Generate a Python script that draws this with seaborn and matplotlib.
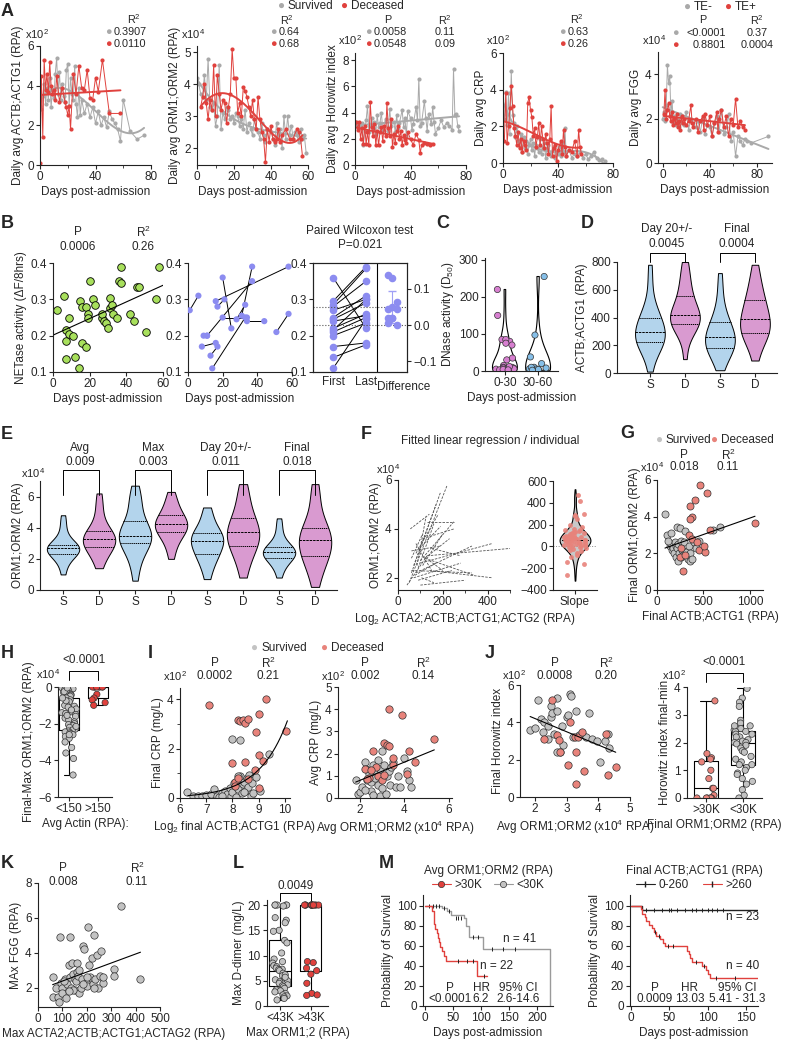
#!/usr/bin/env python3
"""
Multi-panel figure: actin / ORM / CRP / FGG time courses, NETase and DNase
activity, group comparisons and survival curves.
"""
import numpy as np
import pandas as pd
import matplotlib
matplotlib.use('Agg')
import matplotlib.pyplot as plt
from matplotlib.lines import Line2D
from matplotlib.ticker import MultipleLocator
import seaborn as sns

# ---------------------------------------------------------------- data
# panel A: daily averages as (day, value)
a1_surv = [(0, 3.0), (1, 2.8), (2, 3.5), (3, 4.1), (4, 3.1), (5, 3.9), (6, 3.3), (7, 4.4), (8, 2.9),
           (9, 3.8), (10, 3.4), (11, 4.6), (12, 5.4), (13, 3.6), (14, 4.7), (15, 3.3), (16, 4.1),
           (17, 3.5), (18, 3.2), (19, 4.8), (20, 5.1), (21, 3.0), (22, 4.4), (23, 3.6), (24, 3.3),
           (25, 5.0), (26, 3.1), (27, 2.4), (28, 3.9), (29, 2.5), (30, 3.3), (32, 2.6), (34, 3.1),
           (36, 2.4), (38, 2.9), (40, 2.1), (42, 2.7), (44, 2.0), (46, 2.4), (48, 1.9), (50, 2.7),
           (52, 2.3), (54, 2.1), (56, 1.8), (58, 1.2), (60, 3.3), (65, 1.7), (70, 1.3), (75, 1.5)]
a1_dec = [(0, 0.1), (1, 4.5), (2, 1.4), (3, 5.3), (4, 3.8), (5, 4.6), (6, 3.7), (7, 5.2), (8, 4.0),
          (9, 3.6), (10, 3.8), (11, 3.3), (12, 4.5), (14, 3.2), (16, 3.9), (18, 3.2), (19, 2.9),
          (20, 2.5), (21, 3.0), (22, 1.8), (24, 4.6), (26, 3.6), (28, 5.0), (30, 3.9), (32, 3.8),
          (34, 4.8), (36, 3.4), (38, 3.3), (40, 4.4), (42, 3.7), (45, 5.3), (50, 2.6), (58, 2.6)]
a2_surv = [(0, 4.2), (1, 4.0), (2, 3.7), (3, 3.6), (4, 4.3), (5, 3.5), (6, 4.8), (7, 3.3), (8, 3.2),
           (9, 3.4), (10, 2.7), (11, 3.0), (12, 4.6), (13, 2.6), (14, 3.1), (15, 2.9), (16, 3.3),
           (17, 3.2), (18, 2.9), (19, 3.0), (20, 2.8), (21, 3.1), (22, 3.0), (23, 2.7), (24, 2.9),
           (25, 2.6), (26, 3.2), (27, 2.5), (28, 2.8), (29, 2.6), (30, 2.4), (31, 2.9), (32, 2.6),
           (33, 2.5), (34, 2.3), (35, 2.8), (36, 2.4), (37, 2.2), (38, 2.6), (40, 2.5), (41, 2.3),
           (42, 2.1), (43, 2.8), (44, 2.4), (45, 2.6), (46, 2.0), (47, 3.0), (48, 2.3), (49, 3.0),
           (50, 2.4), (51, 2.7), (52, 2.3), (53, 2.5), (54, 2.4), (55, 2.2), (56, 2.6), (57, 2.3),
           (58, 2.4), (59, 1.85)]
a2_dec = [(2, 3.3), (3, 3.6), (4, 4.0), (5, 3.4), (6, 2.9), (7, 3.5), (8, 3.2), (9, 4.6), (10, 3.0),
          (11, 4.3), (12, 3.7), (13, 3.2), (14, 3.5), (15, 3.4), (16, 2.8), (17, 3.3), (18, 3.7),
          (19, 5.1), (20, 4.2), (21, 4.2), (22, 3.1), (23, 3.4), (24, 3.0), (25, 3.9), (26, 3.8),
          (27, 3.6), (28, 3.3), (29, 3.0), (30, 3.5), (31, 2.9), (32, 2.6), (33, 3.6), (34, 2.9),
          (35, 2.5), (36, 2.3), (37, 1.55), (38, 2.6), (39, 2.2), (40, 2.7), (41, 2.3), (42, 2.2),
          (43, 2.3), (44, 2.6), (45, 2.2), (46, 2.4), (48, 2.6), (50, 2.3), (52, 2.3), (54, 2.6),
          (55, 2.5), (56, 2.3), (57, 1.75)]
a3_surv = [(0, 3.0), (1, 3.3), (2, 2.8), (3, 3.1), (4, 2.9), (5, 3.2), (6, 1.5), (7, 2.6), (8, 3.4),
           (9, 4.5), (10, 2.5), (11, 3.0), (12, 3.6), (13, 2.8), (14, 3.3), (15, 2.4), (16, 3.8),
           (17, 2.9), (18, 3.2), (19, 4.0), (20, 2.7), (22, 3.5), (24, 2.6), (25, 4.3), (26, 3.0),
           (28, 3.3), (29, 2.5), (30, 3.8), (31, 2.8), (32, 3.2), (34, 4.2), (35, 2.9), (36, 3.6),
           (37, 2.2), (38, 4.1), (40, 3.6), (41, 2.7), (42, 3.1), (44, 4.4), (45, 3.4), (46, 6.6),
           (47, 3.0), (48, 3.2), (50, 4.9), (51, 3.6), (52, 2.6), (53, 3.9), (55, 3.1), (56, 4.4),
           (57, 3.3), (58, 2.4), (60, 2.8), (62, 3.4), (64, 2.9), (66, 3.2), (68, 3.0), (70, 2.7),
           (71, 7.3), (72, 3.8), (73, 3.9), (74, 3.0), (75, 2.6)]
a3_dec = [(1, 3.3), (2, 2.7), (3, 3.3), (4, 2.0), (5, 2.8), (6, 1.6), (7, 3.0), (8, 1.6), (9, 2.5),
          (10, 1.5), (11, 4.8), (12, 2.9), (13, 2.2), (14, 3.1), (15, 1.5), (16, 2.6), (17, 1.5),
          (18, 2.5), (19, 2.9), (20, 1.8), (21, 3.0), (22, 2.2), (23, 4.7), (24, 2.8), (25, 2.2),
          (26, 3.5), (27, 1.4), (28, 2.4), (29, 1.7), (30, 2.6), (31, 3.0), (32, 2.0), (33, 2.6),
          (34, 1.5), (35, 2.3), (36, 1.9), (37, 1.7), (38, 2.5), (40, 2.0), (42, 1.5), (44, 2.4),
          (46, 1.9), (47, 0.9), (48, 1.5), (50, 1.7), (52, 1.6), (54, 1.5), (56, 1.6)]
a4_surv = [(0, 2.6), (1, 2.4), (2, 3.9), (3, 2.1), (4, 3.8), (5, 1.6), (6, 5.0), (7, 2.6), (8, 2.2),
           (9, 1.4), (10, 2.0), (11, 1.2), (12, 0.9), (13, 1.6), (14, 0.6), (15, 1.4), (16, 0.8),
           (17, 1.2), (18, 0.5), (19, 1.0), (20, 1.3), (21, 0.7), (22, 1.1), (23, 0.4), (24, 1.0),
           (25, 0.8), (26, 0.6), (27, 1.3), (28, 0.5), (29, 0.9), (30, 1.1), (31, 0.3), (32, 0.8),
           (33, 1.0), (34, 0.6), (35, 0.4), (36, 0.7), (37, 0.9), (38, 0.3), (39, 0.6), (40, 0.5),
           (41, 0.9), (42, 0.4), (43, 1.1), (44, 0.6), (45, 1.9), (46, 0.4), (48, 0.7), (50, 0.3),
           (52, 0.5), (54, 0.4), (56, 0.6), (58, 0.3), (60, 0.5), (62, 0.2), (64, 0.4), (66, 0.6),
           (68, 0.3), (70, 0.15), (72, 0.2), (74, 0.1)]
a4_dec = [(1, 1.2), (2, 3.8), (3, 1.1), (4, 2.0), (5, 3.0), (6, 4.2), (7, 3.1), (8, 1.9), (9, 1.5),
          (10, 1.0), (11, 1.7), (12, 0.8), (13, 1.3), (14, 0.6), (15, 1.2), (16, 1.0), (17, 0.7),
          (18, 3.3), (19, 3.6), (20, 2.9), (21, 2.5), (22, 1.5), (23, 1.9), (24, 0.9), (25, 1.4),
          (26, 2.2), (27, 1.0), (28, 2.0), (29, 1.3), (30, 0.8), (31, 1.6), (32, 1.1), (33, 0.5),
          (34, 1.3), (35, 3.1), (36, 0.4), (37, 0.8), (38, 1.0), (39, 0.1), (40, 0.7), (42, 1.2),
          (43, 0.5), (44, 1.8), (45, 0.9), (46, 0.4), (48, 0.7), (50, 0.6), (52, 1.2), (54, 0.4),
          (55, 1.8), (56, 0.9), (57, 0.5)]
a5_neg = [(0, 2.0), (1, 2.3), (2, 1.9), (3, 2.6), (4, 4.4), (5, 3.6), (6, 3.9), (7, 2.2), (8, 2.8),
          (9, 1.8), (10, 2.1), (11, 1.7), (12, 2.0), (13, 1.9), (14, 1.6), (15, 2.2), (16, 1.8),
          (18, 1.7), (20, 2.3), (22, 1.5), (24, 2.0), (26, 1.8), (28, 1.6), (30, 1.9), (32, 1.4),
          (34, 2.0), (36, 1.3), (38, 1.7), (40, 1.6), (42, 1.2), (44, 1.8), (46, 2.1), (48, 1.4),
          (50, 2.4), (52, 1.3), (54, 1.6), (56, 2.2), (58, 1.0), (60, 1.4), (62, 0.3), (64, 1.2),
          (66, 1.0), (68, 0.8), (70, 1.1), (72, 1.0), (75, 0.9), (90, 1.2)]
a5_pos = [(1, 2.2), (2, 3.3), (3, 2.0), (4, 2.4), (5, 2.7), (6, 2.1), (7, 1.9), (8, 2.3), (9, 1.7),
          (10, 2.0), (11, 1.8), (12, 2.2), (13, 1.6), (14, 1.9), (15, 1.5), (16, 2.1), (17, 1.8),
          (18, 2.0), (20, 1.7), (22, 1.9), (24, 2.6), (25, 1.8), (26, 1.6), (28, 2.0), (30, 1.4),
          (32, 1.9), (34, 2.1), (35, 1.5), (36, 2.2), (38, 1.7), (40, 2.1), (42, 1.2), (44, 1.8),
          (46, 2.3), (47, 1.4), (48, 2.0), (50, 2.4), (52, 1.6), (54, 2.1), (56, 1.2), (58, 2.0),
          (60, 1.7), (62, 2.9), (64, 1.6), (66, 1.9), (68, 1.6), (70, 1.5)]

# panel B: NETase activity vs day
b1_day = [2, 6, 7, 7, 7, 9, 9, 11, 12, 14, 15, 16, 16, 18, 18, 19, 19, 20, 22, 23,
          27, 27, 28, 29, 30, 31, 31, 32, 33, 35, 36, 37, 37, 42, 44, 46, 47, 51, 56, 58]
b1_val = [0.27, 0.31, 0.215, 0.185, 0.135, 0.25, 0.205, 0.20, 0.14, 0.11, 0.295, 0.28, 0.18,
          0.28, 0.17, 0.26, 0.25, 0.35, 0.30, 0.285, 0.25, 0.26, 0.24, 0.235, 0.22, 0.305, 0.275,
          0.285, 0.26, 0.25, 0.35, 0.345, 0.39, 0.26, 0.24, 0.335, 0.335, 0.21, 0.30, 0.39]
b2_day_first = [1, 9, 8, 13, 14, 16, 17, 20, 11, 20, 28, 31, 34, 51]
b2_val_first = [0.27, 0.20, 0.17, 0.145, 0.11, 0.295, 0.28, 0.36, 0.20, 0.25, 0.245, 0.255, 0.24, 0.21]
b2_day_last = [6, 11, 16, 17, 33, 58, 21, 25, 37, 34, 33, 37, 44, 58]
b2_val_last = [0.31, 0.20, 0.18, 0.17, 0.25, 0.39, 0.30, 0.22, 0.35, 0.25, 0.285, 0.39, 0.24, 0.26]
b3_first = [0.36, 0.295, 0.285, 0.28, 0.27, 0.25, 0.245, 0.24, 0.22, 0.215, 0.21, 0.20, 0.17, 0.14, 0.11]
b3_last = [0.22, 0.39, 0.385, 0.35, 0.30, 0.31, 0.29, 0.255, 0.26, 0.30, 0.25, 0.235, 0.18, 0.175, 0.245]
b3_diff = [0.137, 0.13, 0.065, 0.045, 0.05, 0.045, 0.02, 0.02, 0.0, 0.005, 0.02]

# panel C: DNase activity
c_early = [220, 150, 85, 80, 70, 85, 75, 30, 35, 15, 10, 8, 5, 5, 3, 2, 5, 8, 10, 4, 2, 6, 12, 3]
c_late = [255, 97, 38, 20, 10, 8, 5, 5, 3, 6, 10, 4, 2]

# panel D: ACTB;ACTG1, survived (S) / deceased (D)
d_day20_s = [10, 120, 170, 200, 215, 220, 230, 250, 270, 285, 295, 310, 330, 360, 385, 400, 420, 460, 520, 650, 780]
d_day20_d = [100, 250, 310, 340, 350, 355, 365, 380, 395, 410, 420, 430, 445, 470, 510, 555, 580, 620, 680, 740, 800]
d_final_s = [20, 90, 130, 160, 170, 180, 195, 210, 230, 250, 260, 275, 290, 310, 340, 365, 390, 430, 500, 600, 720]
d_final_d = [90, 180, 240, 265, 275, 285, 305, 330, 350, 370, 390, 410, 430, 460, 490, 525, 550, 590, 640, 700, 780]

# panel E: ORM1;ORM2 (x10^4)
e_avg_s = [1.0, 1.5, 1.9, 2.1, 2.2, 2.3, 2.4, 2.5, 2.6, 2.65, 2.7, 2.72, 2.75, 2.8, 2.85, 2.9, 3.1, 3.4, 3.8, 4.3, 4.8]
e_avg_d = [1.4, 1.9, 2.2, 2.5, 2.6, 2.75, 2.9, 3.0, 3.1, 3.2, 3.3, 3.35, 3.45, 3.55, 3.65, 3.8, 4.0, 4.5, 5.0, 5.6, 6.2]
e_max_s = [0.6, 1.5, 2.0, 2.5, 2.8, 3.0, 3.1, 3.2, 3.35, 3.45, 3.5, 3.6, 3.75, 3.9, 4.1, 4.4, 4.8, 5.5, 5.8, 6.0, 6.7]
e_max_d = [2.0, 2.6, 3.0, 3.3, 3.5, 3.7, 3.8, 3.9, 4.0, 4.1, 4.25, 4.3, 4.4, 4.5, 4.6, 4.8, 5.0, 5.3, 5.5, 5.9, 6.3]
e_day20_s = [0.7, 1.3, 1.7, 2.0, 2.2, 2.3, 2.5, 2.7, 2.9, 3.05, 3.15, 3.25, 3.35, 3.45, 3.55, 3.65, 3.8, 4.1, 4.5, 4.9, 5.3]
e_day20_d = [0.8, 1.5, 2.0, 2.4, 2.6, 2.8, 3.0, 3.2, 3.4, 3.55, 3.7, 3.8, 3.95, 4.1, 4.35, 4.65, 4.9, 5.3, 5.8, 6.3, 6.8]
e_final_s = [0.8, 1.3, 1.6, 1.8, 1.95, 2.06, 2.15, 2.25, 2.3, 2.38, 2.45, 2.5, 2.55, 2.6, 2.68, 2.76, 2.9, 3.2, 3.6, 4.1, 4.6]
e_final_d = [0.2, 0.9, 1.4, 1.8, 2.0, 2.2, 2.4, 2.6, 2.8, 3.0, 3.2, 3.35, 3.5, 3.65, 3.8, 3.96, 4.3, 4.8, 5.5, 6.2, 6.8]

# panel F: per-individual fits (x0, y0, x1, y1) and their slopes
f_fits = [(50, 1.8, 220, 5.8), (60, 2.2, 190, 5.5), (70, 2.5, 170, 5.0), (80, 3.0, 180, 4.6),
          (90, 2.4, 160, 4.2), (100, 2.7, 250, 4.3), (55, 4.0, 140, 4.6), (110, 3.6, 250, 4.0),
          (120, 2.8, 230, 3.6), (60, 3.1, 190, 3.3), (80, 2.2, 330, 3.3), (130, 2.9, 500, 3.2),
          (100, 2.6, 420, 3.4), (120, 2.8, 340, 2.1), (70, 2.0, 280, 2.6), (90, 1.9, 240, 2.3),
          (60, 2.3, 330, 2.2), (140, 2.3, 420, 2.0), (100, 1.7, 300, 1.9), (80, 3.4, 150, 2.3),
          (150, 3.2, 280, 2.9), (110, 2.5, 200, 3.8), (40, 1.7, 130, 2.9), (95, 3.2, 190, 4.1),
          (130, 4.3, 250, 4.3), (60, 2.8, 110, 3.8), (85, 2.5, 125, 4.5), (75, 2.1, 170, 2.6),
          (140, 2.7, 200, 2.3), (105, 2.0, 160, 1.8)]
f_slopes = [470, 420, 300, 290, 280, 250, 200, 180, 160, 150, 140, 130, 125, 120, 110, 100, 95, 90,
            85, 80, 75, 70, 65, 60, 55, 50, 45, 40, 38, 35, 30, 25, 20, 15, 10, 5, 0, -5, -10, -15,
            -20, -30, -40, -60, -80, -100, -140, -160, -260, 100, 80, 60, 40, 20, 110, 130, 150, 70, 45, 30]

# panel G: final ACTB;ACTG1 vs final ORM1;ORM2 (x10^4)
g_surv = [(86, 4.15), (108, 3.0), (140, 2.4), (150, 2.5), (160, 2.2), (170, 2.3), (180, 2.0), (190, 2.6),
          (200, 2.4), (200, 1.8), (215, 3.45), (220, 2.3), (230, 2.5), (240, 2.0), (250, 3.4), (260, 2.7),
          (270, 2.2), (280, 1.9), (290, 2.6), (300, 3.2), (310, 2.1), (330, 1.7), (340, 2.4), (350, 1.6),
          (360, 2.0), (380, 1.7), (400, 2.6), (420, 2.3), (450, 2.7), (600, 3.3), (677, 3.45), (150, 3.1),
          (120, 2.7), (230, 1.6), (260, 1.8)]
g_dec = [(250, 1.8), (260, 2.3), (280, 1.05), (300, 1.9), (340, 3.0), (376, 4.0), (360, 3.9), (380, 2.8),
         (430, 2.6), (450, 2.2), (516, 2.05), (510, 2.4), (355, 4.6), (408, 4.9), (462, 5.75), (537, 5.3),
         (570, 3.3), (1054, 3.65)]

# panel H: final-max ORM1;ORM2 (x10^4) by average actin
h_low = [0, -0.05, -0.1, -0.1, -0.15, -0.2, -0.3, -0.35, -0.4, -0.45, -0.5, -0.6, -0.7, -0.8, -0.9, -1.0,
         -1.05, -1.1, -1.2, -1.3, -1.35, -1.4, -1.45, -1.5, -1.6, -1.7, -1.8, -1.9, -2.0, -2.05, -2.1,
         -2.2, -2.3, -2.35, -2.4, -2.45, -2.5, -2.55, -2.6, -2.7, -2.8, -3.0, -3.3, -3.6, -3.9, -4.8,
         -0.25, -0.75, -1.25, -1.55, -2.15, -2.6, -0.05, -0.6]
h_high = [0, 0, 0, 0, 0, 0, 0, 0, -0.4, -0.6, -0.7, -0.85, -1.0]

# panel I: CRP (x10^2)
i1_surv = [(6.25, 0.25), (6.5, 0.1), (6.7, 0.08), (6.85, 0.1), (7.0, 0.12), (7.2, 0.18), (7.3, 0.35),
           (7.4, 0.1), (7.5, 0.05), (7.6, 0.2), (7.7, 0.3), (7.8, 0.15), (7.9, 0.4), (7.95, 0.08),
           (8.0, 0.25), (8.05, 0.6), (8.1, 0.5), (8.15, 0.05), (8.2, 0.35), (8.25, 0.75), (8.3, 0.9),
           (8.35, 0.2), (8.4, 0.55), (8.45, 0.65), (8.5, 0.3), (8.55, 0.8), (8.6, 0.45), (8.65, 0.95),
           (8.7, 0.1), (8.75, 0.6), (8.8, 0.2), (9.05, 0.3), (8.0, 2.4), (8.3, 2.35), (9.4, 1.8),
           (8.9, 0.85), (7.6, 0.1), (8.2, 0.9), (8.45, 0.25)]
i1_dec = [(7.1, 3.75), (8.2, 3.15), (8.3, 3.1), (8.4, 3.15), (8.5, 3.05), (8.6, 3.2), (9.3, 4.0), (9.0, 3.4),
          (10.05, 2.7), (8.9, 2.65), (8.0, 1.4), (8.5, 1.45), (9.0, 1.75), (9.15, 1.5), (8.85, 1.15),
          (8.1, 0.65), (8.2, 0.8), (8.6, 0.75), (9.0, 0.4), (8.1, 0.5)]
i2_surv = [(1.8, 0.8), (1.9, 0.2), (2.0, 0.25), (2.1, 0.5), (2.2, 1.6), (2.25, 1.3), (2.3, 0.8), (2.4, 1.1),
           (2.5, 0.7), (2.5, 0.3), (2.6, 1.5), (2.65, 0.9), (2.7, 1.2), (2.8, 0.6), (2.8, 1.7), (2.9, 1.3),
           (2.9, 0.1), (3.0, 2.1), (3.0, 0.9), (3.1, 1.5), (3.15, 0.2), (3.2, 1.0), (3.3, 1.2), (3.35, 0.6),
           (3.4, 1.4), (3.5, 1.6), (3.6, 0.5), (3.7, 1.0), (3.8, 0.5), (4.0, 1.8), (4.1, 1.2), (4.2, 0.8),
           (4.3, 0.5), (2.2, 0.35), (3.0, 0.45), (2.6, 0.15)]
i2_dec = [(2.2, 1.3), (2.4, 0.9), (2.6, 2.1), (2.7, 1.4), (2.8, 1.0), (3.0, 0.8), (3.1, 2.5), (3.2, 2.4),
          (3.3, 2.35), (3.3, 4.0), (3.5, 1.5), (3.5, 1.8), (3.9, 3.75), (4.1, 1.1), (4.2, 2.1), (4.5, 1.6),
          (5.35, 2.65), (2.3, 0.85), (2.5, 1.25), (3.1, 1.05)]

# panel J: Horowitz index (x10^2)
j1_surv = [(1.85, 3.6), (2.0, 3.7), (2.1, 5.2), (2.2, 4.2), (2.25, 3.5), (2.3, 4.0), (2.4, 3.8), (2.5, 4.3),
           (2.5, 4.9), (2.55, 4.5), (2.6, 3.4), (2.7, 5.3), (2.7, 4.6), (2.8, 2.4), (2.85, 3.8), (2.9, 2.8),
           (3.0, 4.3), (3.05, 4.4), (3.1, 5.5), (3.15, 5.4), (3.2, 3.2), (3.3, 4.6), (3.5, 3.4), (3.6, 3.2),
           (3.7, 4.5), (3.8, 3.1), (3.95, 3.0), (4.05, 1.9), (4.2, 3.0), (4.3, 3.4), (4.35, 2.6), (2.4, 3.1),
           (2.7, 2.4), (3.4, 3.3)]
j1_dec = [(2.3, 3.1), (2.55, 5.2), (2.7, 3.3), (2.75, 3.05), (2.8, 2.4), (3.1, 4.0), (3.05, 1.7), (3.25, 3.2),
          (3.3, 2.4), (3.3, 0.7), (3.35, 3.2), (3.5, 3.5), (3.55, 1.4), (4.25, 3.35), (4.3, 1.2), (4.55, 1.6)]
j2_high = [3.5, 1.6, 1.45, 1.4, 1.0, 0.7, 0.35, 0.35, 0.1, 0.0, 0.0, 0.0, 0.0, 0.0, 0.0, 1.3]
j2_low = [3.95, 3.6, 3.45, 3.3, 2.8, 2.7, 2.6, 2.5, 2.45, 2.4, 2.4, 2.3, 2.3, 2.2, 2.2, 2.1, 2.05, 2.0, 2.0,
          1.95, 1.9, 1.8, 1.7, 1.65, 1.5, 1.4, 1.3, 1.2, 1.2, 1.1, 1.0, 0.9, 0.85, 0.7, 0.6, 0.5, 0.3, 0.1, 0.0, 2.6]

# panel K: max actin vs max FGG
k_pts = [(60, 2.6), (60, 1.5), (75, 2.0), (80, 1.5), (85, 1.2), (90, 4.9), (95, 2.3), (100, 2.0), (100, 1.7),
         (110, 2.5), (115, 1.4), (120, 2.2), (125, 3.3), (130, 4.9), (130, 2.6), (135, 2.0), (140, 3.4),
         (145, 2.8), (150, 2.5), (150, 1.9), (155, 2.4), (160, 3.4), (160, 2.9), (165, 2.7), (170, 1.7),
         (175, 2.0), (180, 2.5), (185, 4.4), (190, 4.2), (195, 2.3), (200, 2.1), (205, 5.5), (210, 3.3),
         (215, 2.6), (220, 3.7), (225, 2.2), (230, 5.0), (235, 2.5), (240, 3.9), (245, 2.0), (255, 2.7),
         (260, 4.1), (265, 2.3), (310, 3.1), (310, 2.7), (340, 6.7), (420, 2.5), (105, 2.4), (145, 1.9),
         (170, 3.0), (200, 2.6), (230, 2.0), (125, 1.8), (185, 2.2), (265, 2.6)]

# panel L: max D-dimer by max ORM1;2
l_low = [20, 20, 20, 20, 20, 19.8, 17.5, 17, 16.5, 15, 14.8, 13, 12.5, 10.5, 9.3, 8.8, 8.5, 8, 7.8, 7.5,
         7.3, 7.2, 7, 6.5, 6, 5.5, 5.2, 5, 4.8, 4.5, 4.2, 4, 3.8, 3.5, 3.2, 3, 2.8, 2.5, 2.2, 2, 1.8,
         1.5, 1.2, 6.2, 5.7]
l_high = [20, 20, 20, 20, 20, 20, 20, 20, 20, 20, 20, 20, 8.8, 8.6, 7.5, 7, 6.3, 4.5, 2.5, 2.2, 2.1]

# panel M: Kaplan-Meier steps (day, % surviving) and censor marks
m1_hi_t = [0, 13, 17, 19, 21, 24, 26, 28, 31, 34, 37, 50, 93, 110]
m1_hi_s = [100, 95, 82, 77, 73, 68, 64, 59, 55, 50, 45, 45, 30, 30]
m1_hi_cens_t = [60, 75, 85, 105]
m1_hi_cens_s = [45, 45, 45, 30]
m1_lo_t = [0, 30, 40, 47, 70, 73, 78, 103, 222, 222]
m1_lo_s = [100, 98, 95, 91, 88, 80, 69, 57, 57, 0]
m1_lo_cens_t = [8, 15, 20, 25, 35, 43, 55, 60, 65, 85, 95, 120, 140, 160]
m1_lo_cens_s = [100, 100, 100, 100, 98, 95, 88, 88, 88, 69, 69, 57, 57, 57]
m2_lo_t = [0, 15, 165]
m2_lo_s = [100, 96, 96]
m2_lo_cens_t = [20, 30, 40, 50, 52, 60, 70, 80, 85, 92, 100, 105, 112, 120]
m2_hi_t = [0, 13, 15, 18, 20, 23, 27, 30, 33, 38, 42, 45, 50, 73, 75, 77, 80, 93, 97, 100, 103, 165]
m2_hi_s = [100, 97, 92, 89, 85, 81, 78, 74, 70, 67, 63, 60, 60, 55, 52, 48, 44, 40, 36, 32, 28, 28]
m2_hi_cens_t = [31, 36, 48, 55, 85, 95, 110, 135]
m2_hi_cens_s = [74, 70, 60, 60, 44, 40, 28, 28]

# ---------------------------------------------------------------- style
GRAY = '#a9a9a9'
RED = '#e0413d'
PT_GRAY = '#c3c3c3'
PT_RED = '#e8837b'
BLUE_V = '#a9d5f6'
PINK_V = '#e390d8'
GREEN = '#a8e05c'
PURPLE = '#8c8cf0'
FS = 8.5

sns.set_style('ticks')
plt.rcParams['font.family'] = ['Liberation Sans', 'DejaVu Sans']
plt.rcParams.update({
    'mathtext.default': 'regular', 'font.size': FS, 'axes.labelsize': FS,
    'xtick.labelsize': FS, 'ytick.labelsize': FS, 'axes.linewidth': 0.8,
    'xtick.major.size': 3, 'ytick.major.size': 3, 'xtick.minor.size': 2, 'ytick.minor.size': 2,
    'xtick.major.width': 0.8, 'ytick.major.width': 0.8, 'xtick.major.pad': 1.5,
    'ytick.major.pad': 1.5, 'axes.labelpad': 2, 'axes.edgecolor': '#222222',
})

W, H = 788, 1041
fig = plt.figure(figsize=(W / 100, H / 100), dpi=100)


def px_axes(x0, y0, x1, y1):
    return fig.add_axes([x0 / W, 1 - y1 / H, (x1 - x0) / W, (y1 - y0) / H])


def ftxt(x, y, s, **kw):
    kw.setdefault('ha', 'center')
    kw.setdefault('va', 'center')
    kw.setdefault('fontsize', FS)
    fig.text(x / W, 1 - y / H, s, **kw)


def dot_label(x, y, color, label, fs=FS):
    ftxt(x, y, '\u25cf', color=color, fontsize=fs)
    ftxt(x + 6, y, label, ha='left', fontsize=fs)


def clean(ax):
    sns.despine(ax=ax)
    ax.tick_params(which='both', direction='out')


def bracket(ax, x0, x1, y_top, y_leg):
    ax.plot([x0, x0, x1, x1], [y_leg, y_top, y_top, y_leg], color='black', lw=0.7, clip_on=False)


def to_df(pts):
    return pd.DataFrame(pts, columns=['x', 'y'])


# panel letters
for letter, (lx, ly) in {'A': (7, 12), 'B': (7, 224), 'C': (443, 224), 'D': (587, 224),
                         'E': (7, 434), 'F': (366, 434), 'G': (627, 433), 'H': (7, 653),
                         'I': (150, 653), 'J': (490, 654), 'K': (7, 864), 'L': (238, 864),
                         'M': (386, 864)}.items():
    ftxt(lx, ly, letter, fontsize=13, fontweight='bold')


# ---------------------------------------------------------------- row A
def daily_panel(box, surv, dec, degs, xlim, ylim, yticks, ylabel, mult, mult_xy):
    ax = px_axes(*box)
    for pts, color, deg in zip([surv, dec], [GRAY, RED], degs):
        df = to_df(pts)
        sns.lineplot(data=df, x='x', y='y', ax=ax, color=color, estimator=None, lw=0.7,
                     marker='o', markersize=3, markeredgewidth=0)
        coef = np.polyfit(df['x'], df['y'], deg)
        xs = np.linspace(df['x'].min(), df['x'].max(), 200)
        ax.plot(xs, np.polyval(coef, xs), color=color, lw=1.4)
    ax.set_xlim(*xlim)
    ax.set_ylim(*ylim)
    ax.set_yticks(yticks)
    ax.set_xticks([0, 40, 80] if xlim[1] > 62 else [0, 20, 40, 60])
    ax.xaxis.set_minor_locator(MultipleLocator(20 if xlim[1] > 62 else 10))
    ax.set_xlabel('Days post-admission')
    ax.set_ylabel(ylabel)
    clean(ax)
    ftxt(*mult_xy, mult, fontsize=8)
    return ax


daily_panel((40, 46, 151, 165), a1_surv, a1_dec, (3, 1), (0, 80), (0, 6), [0, 2, 4, 6],
            'Daily avg ACTB;ACTG1 (RPA)', 'x10$^2$', (37, 34))
daily_panel((197, 46, 308, 165), a2_surv, a2_dec, (3, 4), (0, 60), (1.47, 5.2), [2, 3, 4, 5],
            'Daily avg ORM1;ORM2 (RPA)', 'x10$^4$', (193, 34))
daily_panel((355, 53, 466, 165), a3_surv, a3_dec, (1, 1), (0, 80), (0, 8.55), [0, 2, 4, 6, 8],
            'Daily avg Horowitz index', 'x10$^2$', (350, 40))
daily_panel((503, 53, 613, 163), a4_surv, a4_dec, (3, 3), (0, 80), (0, 6), [0, 2, 4, 6],
            'Daily avg CRP', 'x10$^2$', (498, 40))
daily_panel((658, 52, 772, 163), a5_neg, a5_pos, (1, 1), (-4, 93), (0, 5), [0, 2, 4],
            'Daily avg FGG', 'x10$^4$', (654, 40))

# row A statistics, slightly smaller so the stacked rows stay apart
SFS = 7.8
dot_label(282, 6, GRAY, 'Survived', FS)
dot_label(345, 6, RED, 'Deceased', FS)
ftxt(134, 19, 'R$^2$', fontsize=SFS)
dot_label(108, 32, GRAY, '0.3907', SFS)
dot_label(108, 44, RED, '0.0110', SFS)
ftxt(287, 20, 'R$^2$', fontsize=SFS)
dot_label(273, 32, GRAY, '0.64', SFS)
dot_label(273, 44, RED, '0.68', SFS)
ftxt(388, 20, 'P', fontsize=SFS)
dot_label(368, 32, GRAY, '0.0058', SFS)
dot_label(368, 44, RED, '0.0548', SFS)
ftxt(445, 20, 'R$^2$', fontsize=SFS)
ftxt(445, 32, '0.11', fontsize=SFS)
ftxt(445, 44, '0.09', fontsize=SFS)
ftxt(577, 19, 'R$^2$', fontsize=SFS)
dot_label(562, 32, GRAY, '0.63', SFS)
dot_label(562, 44, RED, '0.26', SFS)
dot_label(688, 7, GRAY, 'TE-', FS)
dot_label(729, 7, RED, 'TE+', FS)
ftxt(703, 20, 'P', fontsize=SFS)
ftxt(675, 33, '\u25cf', color=GRAY, fontsize=SFS)
ftxt(726, 33, '<0.0001', ha='right', fontsize=SFS)
ftxt(675, 45, '\u25cf', color=RED, fontsize=SFS)
ftxt(726, 45, '0.8801', ha='right', fontsize=SFS)
ftxt(757, 20, 'R$^2$', fontsize=SFS)
ftxt(757, 33, '0.37', fontsize=SFS)
ftxt(757, 45, '0.0004', fontsize=SFS)

# ---------------------------------------------------------------- row B
ax = px_axes(53, 263, 163, 372)
sns.scatterplot(x=b1_day, y=b1_val, color=GREEN, edgecolor='black', s=30, linewidth=0.6, ax=ax)
sns.regplot(x=b1_day, y=b1_val, scatter=False, ci=None, color='black',
            line_kws={'lw': 0.8}, truncate=False, ax=ax)
ax.set_xlim(0, 60)
ax.set_ylim(0.1, 0.4)
ax.set_xticks([0, 20, 40, 60])
ax.set_yticks([0.1, 0.2, 0.3, 0.4])
ax.set_xlabel('Days post-admission')
ax.set_ylabel('NETase activity (\u0394F/8hrs)')
clean(ax)
ftxt(78, 232, 'P')
ftxt(78, 247, '0.0006')
ftxt(143, 232, 'R$^2$')
ftxt(143, 247, '0.26')

ax = px_axes(188, 263, 292, 372)
for x0, y0, x1, y1 in zip(b2_day_first, b2_val_first, b2_day_last, b2_val_last):
    ax.plot([x0, x1], [y0, y1], color='black', lw=0.7)
sns.scatterplot(x=b2_day_first + b2_day_last, y=b2_val_first + b2_val_last, color=PURPLE,
                edgecolor='none', s=20, ax=ax, zorder=3)
ax.set_xlim(0, 60)
ax.set_ylim(0.1, 0.4)
ax.set_xticks([0, 20, 40, 60])
ax.set_yticks([0.1, 0.2, 0.3, 0.4])
ax.set_xlabel('Days post-admission')
clean(ax)

ax = px_axes(313, 263, 407, 372)
for y0, y1 in zip(b3_first, b3_last):
    ax.plot([0, 1], [y0, y1], color='black', lw=0.7)
ax.scatter(np.zeros(len(b3_first)), b3_first, color=PURPLE, s=20, zorder=3)
ax.scatter(np.ones(len(b3_last)), b3_last, color=PURPLE, s=20, zorder=3)
ax.axvline(1.33, color='black', lw=0.8)
ax.set_xlim(-0.61, 2.24)
ax.set_ylim(0.1, 0.4)
ax.set_yticks([0.1, 0.2, 0.3, 0.4])
ax.set_xticks([0, 1])
ax.set_xticklabels(['First', 'Last'])
ax.tick_params(axis='x', length=0, pad=3)
ftxt(404, 381, 'Difference', va='top')
ax2 = ax.twinx()
ax2.set_ylim(0.1 - 0.229, 0.4 - 0.229)
ax2.set_yticks([-0.1, 0.0, 0.1])
diff_mean = np.mean(b3_diff)
ax2.axhline(0, color='#555555', lw=0.8, ls=':')
ax2.axhline(diff_mean, color='#555555', lw=0.8, ls=':')
offs = np.tile([-0.13, 0.0, 0.13], 4)[:len(b3_diff)]
ax2.scatter(1.8 + offs, b3_diff, color=PURPLE, s=20, zorder=3)
ax2.errorbar(1.8, diff_mean, yerr=np.std(b3_diff), color='#a0a0f5', capsize=3, lw=0.8, zorder=2)
ax2.plot([1.62, 1.98], [diff_mean, diff_mean], color='black', lw=0.8)
ax2.tick_params(length=3, pad=1.5)
ftxt(360, 231, 'Paired Wilcoxon test')
ftxt(360, 245, 'P=0.021')

# ---------------------------------------------------------------- panel C
ax = px_axes(485, 258, 558, 371)
c_df = pd.DataFrame({'grp': ['0-30'] * len(c_early) + ['30-60'] * len(c_late),
                     'val': c_early + c_late})
sns.violinplot(data=c_df, x='grp', y='val', fill=False, color='black', inner=None, cut=0,
               linewidth=0.8, density_norm='width', width=0.75, ax=ax)
sns.stripplot(data=c_df, x='grp', y='val', hue='grp', palette=['#d77fd0', '#86bfe8'], legend=False,
              size=4.5, jitter=0.28, edgecolor='#333333', linewidth=0.5, ax=ax)
ax.set_ylim(0, 305)
ax.set_yticks([0, 100, 200, 300])
ax.set_xlim(-0.6, 1.6)
ax.set_xlabel('Days post-admission')
ax.set_ylabel('DNase activity (D$_{50}$)')
clean(ax)

# ---------------------------------------------------------------- panel D
ax = px_axes(617, 262, 777, 373)
d_sets = [d_day20_s, d_day20_d, d_final_s, d_final_d]
d_names = ['S1', 'D1', 'S2', 'D2']
d_df = pd.DataFrame({'grp': np.repeat(d_names, [len(v) for v in d_sets]), 'val': np.concatenate(d_sets)})
sns.violinplot(data=d_df, x='grp', y='val', hue='grp', order=d_names, palette=[BLUE_V, PINK_V] * 2,
               legend=False, inner='quart', cut=0, linewidth=0.7, linecolor='black',
               density_norm='width', width=0.85, ax=ax)
ax.set_xlim(-0.94, 3.63)
ax.set_ylim(0, 800)
ax.set_yticks([0, 200, 400, 600, 800])
ax.set_xticks(range(4))
ax.set_xticklabels(['S', 'D', 'S', 'D'])
ax.set_xlabel('')
ax.set_ylabel('ACTB;ACTG1 (RPA)')
clean(ax)
bracket(ax, 0, 1, 865, 800)
bracket(ax, 2, 3, 865, 800)
ftxt(667, 229, 'Day 20+/-')
ftxt(667, 244, '0.0045')
ftxt(737, 229, 'Final')
ftxt(737, 244, '0.0004')

# ---------------------------------------------------------------- panel E
ax = px_axes(40, 481, 337, 590)
e_sets = [e_avg_s, e_avg_d, e_max_s, e_max_d, e_day20_s, e_day20_d, e_final_s, e_final_d]
e_names = ['aS', 'aD', 'mS', 'mD', 'dS', 'dD', 'fS', 'fD']
e_df = pd.DataFrame({'grp': np.repeat(e_names, [len(v) for v in e_sets]), 'val': np.concatenate(e_sets)})
sns.violinplot(data=e_df, x='grp', y='val', hue='grp', order=e_names, palette=[BLUE_V, PINK_V] * 4,
               legend=False, inner='quart', cut=0, linewidth=0.7, linecolor='black',
               density_norm='width', width=0.9, ax=ax)
ax.set_xlim(-0.64, 7.61)
ax.set_ylim(0, 7)
ax.set_yticks([0, 2, 4, 6])
ax.set_xticks(range(8))
ax.set_xticklabels(['S', 'D'] * 4)
ax.set_xlabel('')
ax.set_ylabel('ORM1;ORM2 (RPA)')
clean(ax)
ftxt(33, 473, 'x10$^4$', fontsize=8)
for i, (name, pval, cx) in enumerate([('Avg', '0.009', 80), ('Max', '0.003', 153),
                                      ('Day 20+/-', '0.011', 226), ('Final', '0.018', 297)]):
    bracket(ax, 2 * i, 2 * i + 1, 7.7, 6.1)
    ftxt(cx, 448, name)
    ftxt(cx, 462, pval)

# ---------------------------------------------------------------- panel F
ftxt(490, 441, 'Fitted linear regression / individual')
ax = px_axes(398, 480, 510, 590)
for x0, y0, x1, y1 in f_fits:
    ax.plot([x0, x1], [y0, y1], color='#555555', lw=0.6, ls=(0, (3, 1.5)))
ax.set_xlim(0, 500)
ax.set_ylim(1.5, 6)
ax.set_xticks([0, 200, 400])
ax.set_yticks([2, 4, 6])
ax.xaxis.set_minor_locator(MultipleLocator(100))
ax.set_ylabel('ORM1;ORM2 (RPA)')
ax.set_xlabel('Log$_2$ ACTA2;ACTB;ACTG1;ACTG2 (RPA)', x=0.6)
clean(ax)
ftxt(388, 469, 'x10$^4$', fontsize=8)

ax = px_axes(553, 481, 597, 590)
f_df = pd.DataFrame({'grp': ['Slope'] * len(f_slopes), 'val': f_slopes})
sns.violinplot(data=f_df, x='grp', y='val', color='#c8c8c8', inner=None, cut=1, linewidth=0.8,
               linecolor='black', width=0.7, ax=ax)
ax.axhline(0, color='#888888', lw=0.7, ls=':')
ax.plot([-0.3, 0.3], [np.median(f_slopes)] * 2, color='black', lw=0.8)
sns.stripplot(data=f_df, x='grp', y='val', color=PT_RED, size=3.5, jitter=0.25, alpha=0.9, ax=ax)
ax.set_xlim(-0.5, 0.5)
ax.set_ylim(-400, 600)
ax.set_yticks([-400, -200, 0, 200, 400, 600])
ax.set_xlabel('')
ax.set_ylabel('')
clean(ax)

# ---------------------------------------------------------------- panel G
ax = px_axes(657, 480, 763, 590)
gs, gd = to_df(g_surv), to_df(g_dec)
sns.scatterplot(data=gs, x='x', y='y', color=PT_GRAY, edgecolor='#333333', s=26, linewidth=0.5, ax=ax)
sns.scatterplot(data=gd, x='x', y='y', color=PT_RED, edgecolor='#333333', s=26, linewidth=0.5, ax=ax)
sns.regplot(data=pd.concat([gs, gd]), x='x', y='y', scatter=False, ci=None, color='black',
            line_kws={'lw': 0.8}, ax=ax)
ax.set_xlim(0, 1140)
ax.set_ylim(0, 6)
ax.set_xticks([0, 500, 1000])
ax.set_yticks([0, 2, 4, 6])
ax.set_xlabel('Final ACTB;ACTG1 (RPA)')
ax.set_ylabel('Final ORM1;ORM2 (RPA)')
clean(ax)
dot_label(660, 440, PT_GRAY, 'Survived')
dot_label(715, 440, PT_RED, 'Deceased')
ftxt(652, 467, 'x10$^4$', fontsize=8)
ftxt(684, 455, 'P')
ftxt(684, 467, '0.018')
ftxt(728, 455, 'R$^2$')
ftxt(728, 467, '0.11')


# ---------------------------------------------------------------- box panels
def box_panel(box, groups, values, colors, xlim, ylim, yticks, width=0.65):
    ax = px_axes(*box)
    df = pd.DataFrame({'grp': np.repeat(groups, [len(v) for v in values]),
                       'val': np.concatenate(values)})
    sns.boxplot(data=df, x='grp', y='val', order=groups, fill=False, color='black',
                whis=(0, 100), width=width, linewidth=0.8, showfliers=False, ax=ax)
    sns.stripplot(data=df, x='grp', y='val', order=groups, hue='grp', palette=colors,
                  legend=False, size=4.5, jitter=0.25, edgecolor='#333333', linewidth=0.5, ax=ax)
    ax.set_xlim(*xlim)
    ax.set_ylim(*ylim)
    ax.set_yticks(yticks)
    ax.set_ylabel('')
    clean(ax)
    return ax


ax = box_panel((58, 687, 112, 797), ['<150', '>150'], [h_low, h_high], [PT_GRAY, RED],
               (-0.38, 1.48), (-6, 0), [0, -2, -4, -6], width=0.7)
ax.set_xlabel('Avg Actin (RPA):')
ax.set_ylabel('Final-Max ORM1;ORM2 (RPA)')
bracket(ax, 0, 1, 0.87, 0.4)
ftxt(48, 674, 'x10$^4$', fontsize=8)
ftxt(84, 660, '<0.0001')

ax = box_panel((687, 687, 762, 798), ['>30K', '<30K'], [j2_high, j2_low], [PT_RED, PT_GRAY],
               (-0.51, 1.5), (0, 4), [0, 1, 2, 3, 4])
ax.set_xlabel('Final ORM1;ORM2 (RPA)', x=0.37)
ax.set_ylabel('Horowitz index final-min')
bracket(ax, 0, 1, 4.5, 4.18)
ftxt(674, 675, 'x10$^2$', fontsize=8)
ftxt(724, 662, '<0.0001')

ax = box_panel((267, 900, 328, 1006), ['<43K', '>43K'], [l_low, l_high], [PT_GRAY, RED],
               (-0.42, 1.55), (0, 21), [0, 5, 10, 15, 20], width=0.68)
ax.set_xlabel('Max ORM1;2 (RPA)')
ax.set_ylabel('Max D-dimer (mg/L)')
bracket(ax, 0, 1, 22.3, 20.8)
ftxt(296, 886, '0.0049')


# ---------------------------------------------------------------- scatter panels
def scatter_panel(box, surv, dec, xlim, ylim, xticks, yticks):
    ax = px_axes(*box)
    s_df, d_df = to_df(surv), to_df(dec)
    sns.scatterplot(data=s_df, x='x', y='y', color=PT_GRAY, edgecolor='#333333', s=28, linewidth=0.5, ax=ax)
    if len(dec):
        sns.scatterplot(data=d_df, x='x', y='y', color=PT_RED, edgecolor='#333333', s=28, linewidth=0.5, ax=ax)
    ax.set_xlim(*xlim)
    ax.set_ylim(*ylim)
    ax.set_xticks(xticks)
    ax.set_yticks(yticks)
    clean(ax)
    return ax, pd.concat([s_df, d_df])


def finish(ax, xlabel, ylabel, **kw):
    ax.set_xlabel(xlabel, **kw)
    ax.set_ylabel(ylabel)


# I1 with exponential fit
ax, all_i1 = scatter_panel((180, 688, 290, 798), i1_surv, i1_dec, (6, 10.2), (0, 4.45),
                           [6, 7, 8, 9, 10], [0, 2, 4])
coef = np.polyfit(all_i1['x'], np.log(all_i1['y']), 1)
xs = np.linspace(6.3, 10.1, 200)
ax.plot(xs, np.exp(np.polyval(coef, xs)), color='black', lw=0.8)
ax.yaxis.set_minor_locator(MultipleLocator(1))
finish(ax, 'Log$_2$ final ACTB;ACTG1 (RPA)', 'Final CRP (mg/L)')
dot_label(255, 648, PT_GRAY, 'Survived')
dot_label(325, 648, PT_RED, 'Deceased')
ftxt(175, 676, 'x10$^2$', fontsize=8)
ftxt(215, 663, 'P')
ftxt(215, 676, '0.0002')
ftxt(268, 663, 'R$^2$')
ftxt(268, 676, '0.21')

ax, all_i2 = scatter_panel((338, 687, 452, 798), i2_surv, i2_dec, (1.0, 6.15), (0, 5),
                           [2, 4, 6], [0, 1, 2, 3, 4, 5])
sns.regplot(data=all_i2, x='x', y='y', scatter=False, ci=None, color='black', line_kws={'lw': 0.8}, ax=ax)
finish(ax, 'Avg ORM1;ORM2 (x10$^4$ RPA)', 'Avg CRP (mg/L)')
ftxt(333, 676, 'x10$^2$', fontsize=8)
ftxt(365, 663, 'P')
ftxt(365, 676, '0.002')
ftxt(423, 663, 'R$^2$')
ftxt(423, 676, '0.14')

ax, all_j1 = scatter_panel((520, 685, 630, 797), j1_surv, j1_dec, (1.53, 5.0), (0, 6),
                           [2, 3, 4, 5], [0, 2, 4, 6])
sns.regplot(data=all_j1, x='x', y='y', scatter=False, ci=None, color='black', line_kws={'lw': 0.8}, ax=ax)
finish(ax, 'Avg ORM1;ORM2 (x10$^4$ RPA)', 'Final Horowitz index')
ftxt(514, 675, 'x10$^2$', fontsize=8)
ftxt(555, 663, 'P')
ftxt(555, 676, '0.0008')
ftxt(606, 663, 'R$^2$')
ftxt(606, 676, '0.20')

ax, all_k = scatter_panel((38, 883, 160, 1007), k_pts, [], (0, 500), (0.9, 8),
                          [0, 100, 200, 300, 400, 500], [2, 4, 6, 8])
sns.regplot(data=to_df(k_pts), x='x', y='y', scatter=False, ci=None, color='black', line_kws={'lw': 0.8}, ax=ax)
finish(ax, 'Max ACTA2;ACTB;ACTG1;ACTAG2 (RPA)', 'MAx FGG (RPA)', x=0.62)
ftxt(63, 868, 'P')
ftxt(63, 882, '0.008')
ftxt(137, 868, 'R$^2$')
ftxt(137, 882, '0.11')


# ---------------------------------------------------------------- panel M
def km_panel(box, curves, xlim, xticks, title):
    ax = px_axes(*box)
    for t, s, ct, cs, color in curves:
        ax.step(t, s, where='post', color=color, lw=1.0)
        ax.plot(ct, cs, ls='none', marker='|', color='#222222', ms=3, mew=0.7)
    ax.set_xlim(*xlim)
    ax.set_ylim(0, 111)
    ax.set_xticks(xticks)
    ax.set_yticks([0, 20, 40, 60, 80, 100])
    ax.set_xlabel('Days post-admission')
    ax.set_ylabel('Probability of Survival')
    ax.set_title(title, fontsize=FS, pad=15)
    clean(ax)
    return ax


ax = km_panel((423, 895, 553, 1006),
              [(m1_lo_t, m1_lo_s, m1_lo_cens_t, m1_lo_cens_s, '#9a9a9a'),
               (m1_hi_t, m1_hi_s, m1_hi_cens_t, m1_hi_cens_s, RED)],
              (-3, 228), [0, 50, 100, 150, 200], 'Avg ORM1;ORM2 (RPA)')
handles = [Line2D([0], [0], color=RED, lw=0.8, marker='o', ms=4.5, mfc=RED, mec='#333333', mew=0.5),
           Line2D([0], [0], color='#9a9a9a', lw=0.8, marker='o', ms=4.5, mfc=PT_GRAY, mec='#333333', mew=0.5)]
ax.legend(handles, ['>30K', '<30K'], ncol=2, loc='lower center', bbox_to_anchor=(0.5, 0.97),
          frameon=False, fontsize=FS, handlelength=1.6, columnspacing=1.0, handletextpad=0.3,
          borderpad=0.1)
ftxt(520, 939, 'n = 41')
ftxt(496, 966, 'n = 22')
for cx, head, val in [(450, 'P', '<0.0001'), (481, 'HR', '6.2'), (518, '95% CI', '2.6-14.6')]:
    ftxt(cx, 988, head)
    ftxt(cx, 999, val)

ax = km_panel((630, 895, 758, 1006),
              [(m2_lo_t, m2_lo_s, m2_lo_cens_t, [96] * len(m2_lo_cens_t), '#222222'),
               (m2_hi_t, m2_hi_s, m2_hi_cens_t, m2_hi_cens_s, RED)],
              (-1, 165), [0, 50, 100, 150], 'Final ACTB;ACTG1 (RPA)')
handles = [Line2D([0], [0], color='#222222', lw=0.8, marker='|', ms=4),
           Line2D([0], [0], color=RED, lw=0.8, marker='|', ms=4, mec='#222222')]
ax.legend(handles, ['0-260', '>260'], ncol=2, loc='lower center', bbox_to_anchor=(0.5, 0.97),
          frameon=False, fontsize=FS, handlelength=1.6, columnspacing=1.2, handletextpad=0.3,
          borderpad=0.1)
ftxt(743, 917, 'n = 23')
ftxt(743, 966, 'n = 40')
for cx, head, val in [(655, 'P', '0.0009'), (690, 'HR', '13.03'), (737, '95% CI', '5.41 - 31.3')]:
    ftxt(cx, 988, head)
    ftxt(cx, 999, val)

fig.savefig('out.png', dpi=100)
